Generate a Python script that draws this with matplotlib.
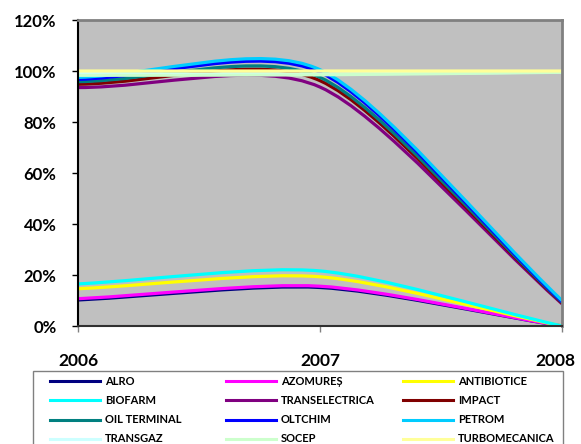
import matplotlib
matplotlib.use("Agg")
import matplotlib.pyplot as plt
from matplotlib.path import Path
from matplotlib.patches import PathPatch, Rectangle
from matplotlib.lines import Line2D
from matplotlib.ticker import PercentFormatter
from matplotlib.transforms import ScaledTranslation

plt.rcParams['font.family'] = ['Lato', 'DejaVu Sans']
plt.rcParams['font.weight'] = 'bold'

years = [2006, 2007, 2008]

companies = ['ALRO', 'AZOMUREȘ', 'ANTIBIOTICE', 'BIOFARM', 'TRANSELECTRICA', 'IMPACT',
             'OIL TERMINAL', 'OLTCHIM', 'PETROM', 'TRANSGAZ', 'SOCEP', 'TURBOMECANICA']

alro = [0.102, 0.151, 0.0]
azomures = [0.107, 0.156, 0.0]
antibiotice = [0.146, 0.193, 0.0]
biofarm = [0.165, 0.216, 0.0]
transelectrica = [0.935, 0.937, 0.087]
impact = [0.948, 0.962, 0.090]
oil_terminal = [0.958, 0.975, 0.093]
oltchim = [0.967, 0.995, 0.095]
petrom = [0.975, 1.005, 0.100]
transgaz = [0.990, 0.988, 0.996]
socep = [0.983, 0.985, 0.995]
turbomecanica = [1.0, 1.0, 1.0]

series = [alro, azomures, antibiotice, biofarm, transelectrica, impact,
          oil_terminal, oltchim, petrom, transgaz, socep, turbomecanica]

# Excel 2003 default line colours, in series order
colors = ['#000080', '#FF00FF', '#FFFF00', '#00FFFF', '#800080', '#800000',
          '#008080', '#0000FF', '#00CCFF', '#CCFFFF', '#CCFFCC', '#FFFF99']


def smooth_path(xs, ys, tension=1 / 8):
    # Bezier segments for a "smoothed line" look
    n = len(xs)
    verts = [(xs[0], ys[0])]
    codes = [Path.MOVETO]
    for i in range(n - 1):
        i0 = i - 1 if i > 0 else i
        i3 = i + 2 if i + 2 < n else i + 1
        f1 = tension if i > 0 else 1 / 3
        f2 = tension if i + 2 < n else 1 / 3
        c1 = (xs[i] + f1 * (xs[i + 1] - xs[i0]), ys[i] + f1 * (ys[i + 1] - ys[i0]))
        c2 = (xs[i + 1] - f2 * (xs[i3] - xs[i]), ys[i + 1] - f2 * (ys[i3] - ys[i]))
        verts += [c1, c2, (xs[i + 1], ys[i + 1])]
        codes += [Path.CURVE4] * 3
    return Path(verts, codes)


W, H = 581, 444
fig = plt.figure(figsize=(W / 100, H / 100), dpi=100)
ax = fig.add_axes([78 / W, 1 - 326 / H, (562 - 78) / W, (326 - 20) / H])
ax.set_facecolor('#C0C0C0')

for vals, c in zip(series, colors):
    ax.add_patch(PathPatch(smooth_path(years, vals), fill=False, edgecolor=c,
                           lw=2.3, capstyle='butt', joinstyle='round'))

ax.set_xlim(2006, 2008)
ax.set_ylim(0, 1.2)
ax.set_xticks(years)
ax.set_xticklabels([str(y) for y in years])
ax.set_yticks([0, 0.2, 0.4, 0.6, 0.8, 1.0, 1.2])
ax.yaxis.set_major_formatter(PercentFormatter(1.0, decimals=0))

ax.tick_params(axis='y', length=4.5, width=1, color='black', pad=11, labelsize=12)
ax.tick_params(axis='x', length=4.5, width=1, color='#808080', pad=15, labelsize=12.5)
for lab in ax.get_xticklabels() + ax.get_yticklabels():
    lab.set_fontweight('bold')
last = ax.get_xticklabels()[-1]
last.set_transform(last.get_transform() + ScaledTranslation(-0.07, 0, fig.dpi_scale_trans))

for side in ['top', 'right']:
    ax.spines[side].set_color('#808080')
    ax.spines[side].set_linewidth(2)
ax.spines['left'].set_color('black')
ax.spines['left'].set_linewidth(1.5)
ax.spines['bottom'].set_color('#303030')
ax.spines['bottom'].set_linewidth(1.5)

# legend box below the plot, three columns filled row by row
fig.add_artist(Rectangle((33 / W, 1 - 452 / H), (563 - 33) / W, (452 - 371) / H,
                         transform=fig.transFigure, fill=False, edgecolor='#808080', lw=1))
col_x = [50, 226, 403]
row_y = [381, 400, 419.5, 438.5]
for k, (name, c) in enumerate(zip(companies, colors)):
    r, col = divmod(k, 3)
    x0 = col_x[col]
    y = 1 - row_y[r] / H
    fig.add_artist(Line2D([x0 / W, (x0 + 50) / W], [y, y], transform=fig.transFigure,
                          color=c, lw=2.2))
    fig.text((x0 + 55) / W, y, name, fontsize=8, fontweight='bold', va='center', ha='left')

fig.savefig('out.png', dpi=100)
